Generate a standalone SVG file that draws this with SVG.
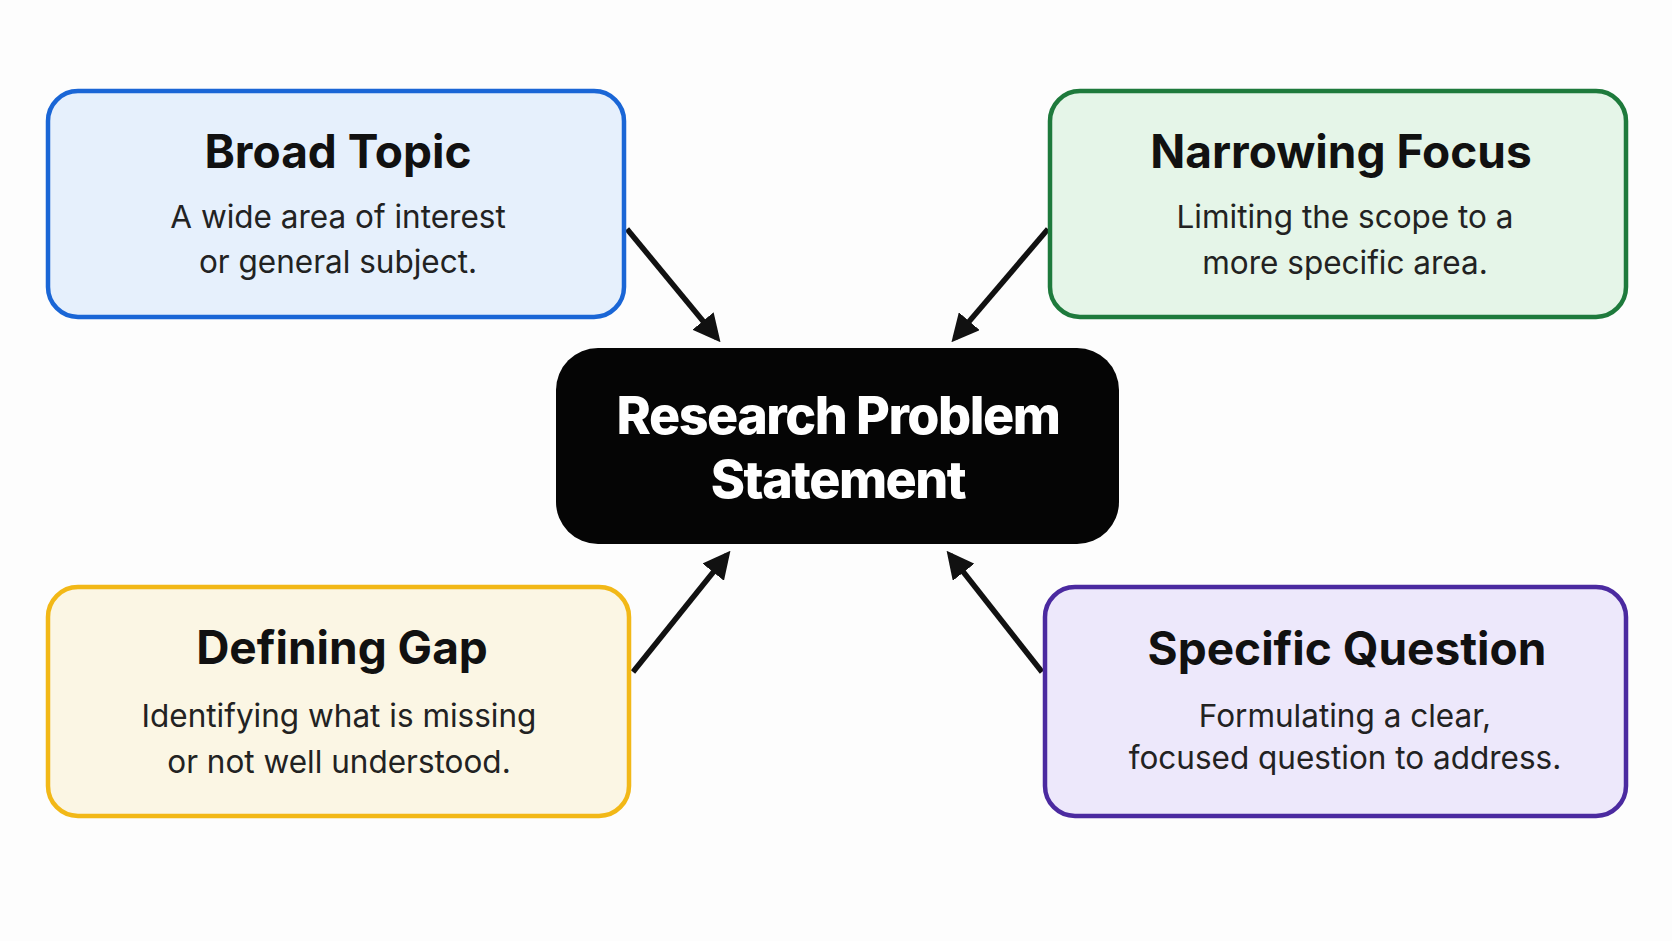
<svg xmlns="http://www.w3.org/2000/svg" width="1672" height="941" viewBox="0 0 1672 941">
<style>
.t{font-family:Inter,"Open Sans",sans-serif;font-weight:700;font-size:46px;fill:#111;text-anchor:middle}
.s{font-family:Inter,"Open Sans",sans-serif;font-size:31.5px;fill:#222;text-anchor:middle}
.c{font-family:Inter,"Open Sans",sans-serif;font-weight:800;font-size:52px;fill:#fff;text-anchor:middle;letter-spacing:-1.5px}
.box{stroke-width:4.5}
.a{stroke:#111;stroke-width:5.5;fill:none;marker-end:url(#ah)}
</style>
<defs><marker id="ah" viewBox="0 0 10 10" refX="8" refY="5" markerWidth="5" markerHeight="5" orient="auto" markerUnits="strokeWidth"><path d="M0,0 L10,5 L0,10 Z" fill="#111"/></marker></defs>
<rect width="1672" height="941" fill="#fdfdfd"/>
<g id="connectors">
<line class="a" x1="627" y1="229" x2="717" y2="338"/>
<line class="a" x1="1048" y1="229" x2="955" y2="338"/>
<line class="a" x1="633" y1="672" x2="727" y2="555"/>
<line class="a" x1="1042" y1="672" x2="950" y2="555"/>
</g>
<g id="broad"><rect class="box" x="48" y="91" width="576" height="226" rx="30" fill="#e6f0fc" stroke="#1a66d6"/>
<text class="t" x="338" y="168">Broad Topic</text>
<text class="s" x="338" y="228">A wide area of interest</text>
<text class="s" x="338" y="273">or general subject.</text></g>
<g id="narrowing"><rect class="box" x="1050" y="91" width="576" height="226" rx="30" fill="#e5f5e8" stroke="#1e7a3c"/>
<text class="t" x="1341" y="168">Narrowing Focus</text>
<text class="s" x="1345" y="228">Limiting the scope to a</text>
<text class="s" x="1345" y="274">more specific area.</text></g>
<g id="center"><rect x="556" y="348" width="563" height="196" rx="42" fill="#050505"/>
<text class="c" x="838" y="434">Research Problem</text>
<text class="c" x="838" y="498">Statement</text></g>
<g id="gap"><rect class="box" x="48" y="587" width="581" height="229" rx="30" fill="#fbf6e4" stroke="#f2b817"/>
<text class="t" x="342" y="664">Defining Gap</text>
<text class="s" x="339" y="727">Identifying what is missing</text>
<text class="s" x="339" y="773">or not well understood.</text></g>
<g id="question"><rect class="box" x="1045" y="587" width="581" height="229" rx="30" fill="#ede8fb" stroke="#4b2aa0"/>
<text class="t" x="1347" y="665">Specific Question</text>
<text class="s" x="1345" y="727">Formulating a clear,</text>
<text class="s" x="1345" y="769">focused question to address.</text></g>
</svg>
